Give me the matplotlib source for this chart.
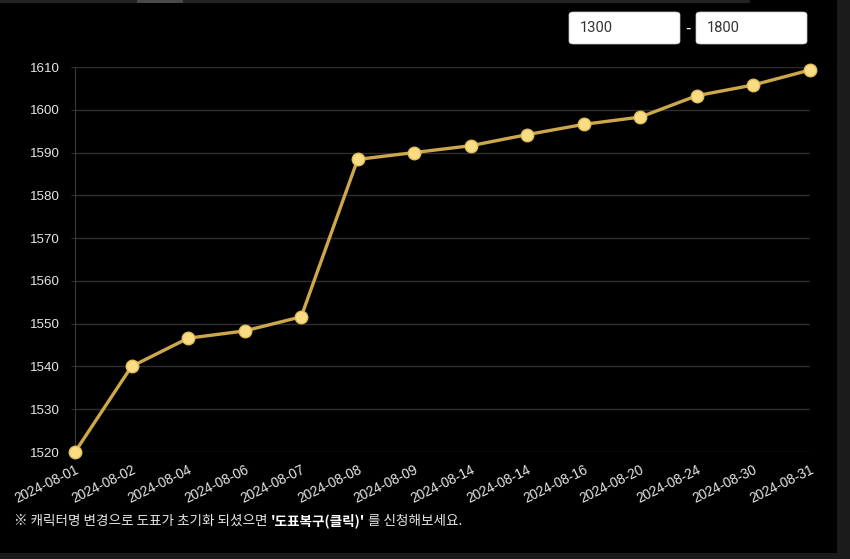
import matplotlib
matplotlib.use("Agg")
import matplotlib.pyplot as plt
from matplotlib.patches import Rectangle, FancyBboxPatch

dates = ['2024-08-01', '2024-08-02', '2024-08-04', '2024-08-06', '2024-08-07',
         '2024-08-08', '2024-08-09', '2024-08-14', '2024-08-14', '2024-08-16',
         '2024-08-20', '2024-08-24', '2024-08-30', '2024-08-31']
scores = [1520.0, 1540.0, 1546.6, 1548.3, 1551.6, 1588.4, 1590.0, 1591.6,
          1594.2, 1596.6, 1598.3, 1603.3, 1605.8, 1609.3]
y_ticks = [1520, 1530, 1540, 1550, 1560, 1570, 1580, 1590, 1600, 1610]
range_min = '1300'
range_max = '1800'
note_start = '※ 캐릭터명 변경으로 도표가 초기화 되셨으면 '
note_bold = "'도표복구(클릭)'"
note_end = ' 를 신청해보세요.'

W, H = 850, 559
fig = plt.figure(figsize=(W / 100, H / 100), dpi=100, facecolor='#1b1b1b')

# black panel + thin bar on top
fig.patches.append(Rectangle((0, 1 - 553 / H), 837 / W, 553 / H, transform=fig.transFigure,
                             facecolor='black', edgecolor='none', zorder=-10))
fig.patches.append(Rectangle((0, 1 - 3 / H), 750 / W, 3 / H, transform=fig.transFigure,
                             facecolor='#222222', edgecolor='none', zorder=-9))
fig.patches.append(Rectangle((137 / W, 1 - 3 / H), 46 / W, 3 / H, transform=fig.transFigure,
                             facecolor='#4a4a4a', edgecolor='none', zorder=-9))

# range input boxes
for x0, x1, txt in [(569, 680, range_min), (696, 807, range_max)]:
    fig.patches.append(FancyBboxPatch((x0 / W, 1 - 44 / H), (x1 - x0) / W, 32 / H,
                                      boxstyle='round,pad=0,rounding_size=0.005',
                                      transform=fig.transFigure, facecolor='white',
                                      edgecolor='#cccccc', linewidth=0.5, zorder=2))
    fig.text((x0 + 11) / W, 1 - 28 / H, txt, color='#333333', fontsize=10.5,
             family='Roboto', va='center', ha='left', zorder=3)
fig.text(688 / W, 1 - 28 / H, '-', color='white', fontsize=11, ha='center', va='center')

ax = fig.add_axes([75 / W, 1 - 452 / H, (810 - 75) / W, (452 - 67) / H])
ax.set_zorder(1)
ax.set_facecolor('black')

x = list(range(len(dates)))
ax.plot(x, scores, color='#cda84b', linewidth=2.4, marker='o', markersize=9,
        markerfacecolor='#fadc82', markeredgecolor='#e3bf62', markeredgewidth=1,
        clip_on=False, zorder=5)

ax.set_xlim(0, len(dates) - 1)
ax.set_ylim(1520, 1610)
ax.set_yticks(y_ticks)
ax.set_xticks(x)
ax.set_xticklabels(dates, rotation=26, ha='right', rotation_mode='anchor',
                   family='Liberation Sans', fontsize=9.8, color='#e6e6e6')
ax.set_yticklabels([str(v) for v in y_ticks], family='Liberation Sans',
                   fontsize=9.6, color='#e6e6e6')
ax.tick_params(axis='y', length=3, color='#2e2e2e', pad=8)
ax.tick_params(axis='x', length=0, pad=8)
ax.grid(axis='y', color='#2e2e2e', linewidth=1)
for s in ['top', 'right', 'bottom']:
    ax.spines[s].set_visible(False)
ax.spines['left'].set_color('#3a3a3a')

# footer note with bold part
fam = ['Noto Sans CJK KR', 'DejaVu Sans']
fs = 9.8
t1 = fig.text(14 / W, 1 - 521 / H, note_start, color='#e6e6e6', fontsize=fs,
              family=fam, va='center', ha='left')
t2 = fig.text(0, 0, note_bold, color='#ffffff', fontsize=fs, family=fam,
              weight='bold', va='center', ha='left')
fig.canvas.draw()
r = fig.canvas.get_renderer()
b1 = t1.get_window_extent(r)
t2.set_position((b1.x1 / W, 1 - 521 / H))
fig.canvas.draw()
b2 = t2.get_window_extent(r)
fig.text(b2.x1 / W, 1 - 521 / H, note_end, color='#e6e6e6', fontsize=fs,
         family=fam, va='center', ha='left')

fig.savefig('out.png', dpi=100, facecolor=fig.get_facecolor())
